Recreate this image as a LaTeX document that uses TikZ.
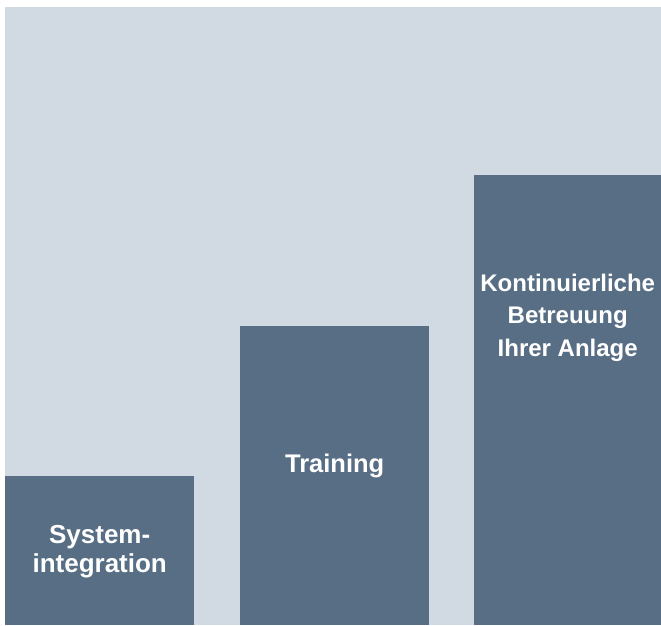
\documentclass[tikz,border=0pt]{standalone}
\usepackage{fontspec}
\setmainfont{Liberation Sans}
\usetikzlibrary{positioning}

\definecolor{stepbg}{HTML}{D1D9E2}
\definecolor{stepbar}{HTML}{586E85}

\begin{document}
\begin{tikzpicture}[
  x=1pt, y=1pt,
  bar/.style = {fill=stepbar, inner sep=0pt, anchor=south west, minimum height=#1},
  bar/.default = 100pt,
  steptext/.style = {text=white, align=center, inner sep=0pt}
]

  \useasboundingbox (0,0) rectangle (661,625);

  % Background
  \fill[stepbg] (5,0) rectangle (661,618);

  % Stairs
  \node[bar=149pt, minimum width=189pt] (integration) at (5,0) {};
  \node[bar=299pt, minimum width=189pt] (training) at (240,0) {};
  \node[bar=450pt, minimum width=187pt] (support) at (474,0) {};

  % Texts
  \node[steptext, below=50pt of integration.north, font=\bfseries\fontsize{26}{29}\selectfont] (integrationtext) {System-\\integration};
  \node[steptext, below=128pt of training.north, font=\bfseries\fontsize{25.5}{30}\selectfont] (trainingtext) {Training};
  \node[steptext, below=99pt of support.north, font=\bfseries\fontsize{24}{32.5}\selectfont] (supporttext) {Kontinuierliche\\Betreuung\\Ihrer Anlage};

\end{tikzpicture}
\end{document}
